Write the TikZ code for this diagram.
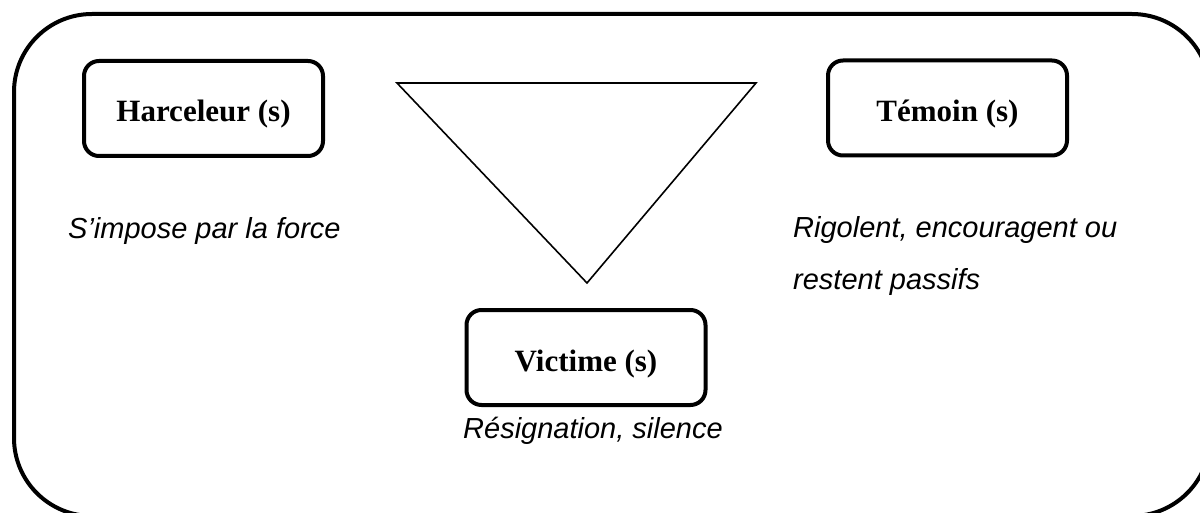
\documentclass[tikz,border=0pt]{standalone}
\usepackage{fontspec}
\setmainfont{Liberation Serif}
\newfontfamily\labelsans{Liberation Sans}
\begin{document}
\begin{tikzpicture}[x=1pt,y=-1pt,
  rolebox/.style={draw, line width=4pt, rounded corners=15pt, fill=white,
    minimum width=239pt, minimum height=95pt, inner sep=0pt,
    font=\fontsize{31pt}{36pt}\selectfont\bfseries, text height=27pt, text depth=0pt},
  note/.style={font=\fontsize{29pt}{52pt}\selectfont\labelsans\itshape, inner sep=0pt, anchor=base west, align=left}]
\useasboundingbox (0,0) rectangle (1200,513);
\fill[white] (0,0) rectangle (1200,513);
% outer frame
\draw[line width=4pt, rounded corners=78pt] (14,14) rectangle (1210,516);
% triangle
\coordinate (tl) at (397,83);
\coordinate (tr) at (756,83);
\coordinate (tb) at (587,283);
\draw[line width=1.6pt, line join=miter] (tl) -- (tr) -- (tb) -- cycle;
% boxes
\node[rolebox] (harc) at (203.5,108.5) {Harceleur (s)};
\node[rolebox] (temo) at (947.5,108) {Témoin (s)};
\node[rolebox] (vict) at (586,357.5) {Victime (s)};
% notes
\node[note] (nharc) at (68,239) {S’impose par la force};
\node[note] (ntemo) at (793,290) {Rigolent, encouragent ou\\restent passifs};
\node[note] (nvict) at (463,438) {Résignation, silence};
\end{tikzpicture}
\end{document}
